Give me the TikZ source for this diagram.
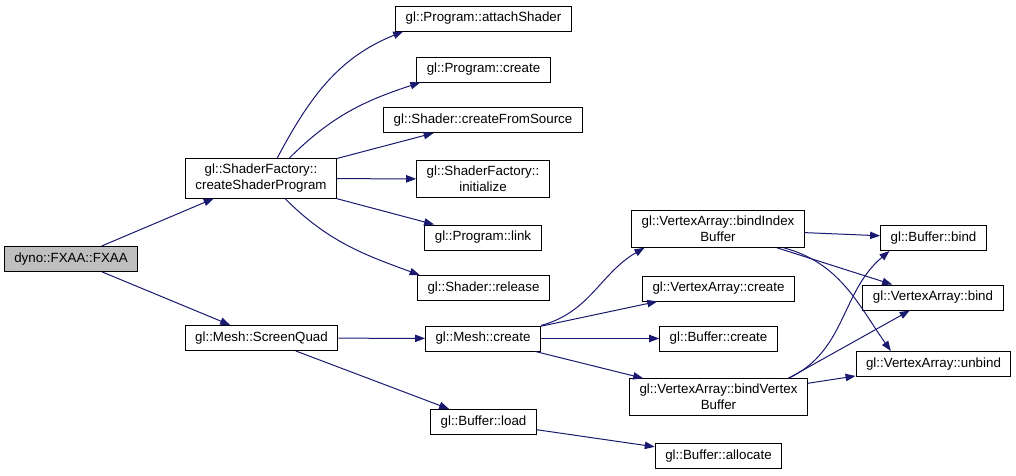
\documentclass[tikz,border=0pt]{standalone}
\usepackage{fontspec}
\setmainfont{Liberation Sans}
\usetikzlibrary{arrows.meta}
\definecolor{edgeblue}{HTML}{191970}
\definecolor{rootgray}{HTML}{BFBFBF}
\begin{document}
\begin{tikzpicture}[x=0.75pt,y=-0.75pt,
  fn/.style={draw, align=center, font=\fontsize{10}{12}\selectfont, inner xsep=7.5pt, inner ysep=4pt, minimum height=18.75pt, line width=0.75pt},
  call/.style={draw=edgeblue, line width=0.75pt, -{Triangle[length=7.5pt,width=5.5pt,fill=edgeblue]}}]
\useasboundingbox (0,0) rectangle (1016,475);
\node[fn, fill=rootgray] (fxaa) at (71,259) {dyno::FXAA::FXAA};
\node[fn] (csp) at (261,178.5) {gl::ShaderFactory::\\createShaderProgram};
\node[fn] (sq) at (261.5,338) {gl::Mesh::ScreenQuad};
\node[fn] (attach) at (483.5,18.5) {gl::Program::attachShader};
\node[fn] (pcreate) at (483.5,69.5) {gl::Program::create};
\node[fn] (cfs) at (483,120) {gl::Shader::createFromSource};
\node[fn] (init) at (483,179) {gl::ShaderFactory::\\initialize};
\node[fn] (link) at (483,237.5) {gl::Program::link};
\node[fn] (release) at (483.5,288) {gl::Shader::release};
\node[fn] (mcreate) at (483,338.5) {gl::Mesh::create};
\node[fn] (load) at (483.5,422) {gl::Buffer::load};
\node[fn] (bib) at (718,229) {gl::VertexArray::bindIndex\\Buffer};
\node[fn] (vacreate) at (718.5,288.5) {gl::VertexArray::create};
\node[fn] (bcreate) at (718.5,338.5) {gl::Buffer::create};
\node[fn] (bvb) at (718.5,397) {gl::VertexArray::bindVertex\\Buffer};
\node[fn] (alloc) at (718.5,456) {gl::Buffer::allocate};
\node[fn] (bbind) at (933.5,238) {gl::Buffer::bind};
\node[fn] (vabind) at (933,297.5) {gl::VertexArray::bind};
\node[fn] (unbind) at (933.5,364) {gl::VertexArray::unbind};
% FXAA
\draw[call] (fxaa) -- (csp);
\draw[call] (fxaa) -- (sq);
% createShaderProgram
\draw[call] ([xshift=12pt]csp.north) to[out=62,in=202] ([xshift=6pt]attach.south west);
\draw[call] ([xshift=21pt]csp.north) to[out=45,in=198] ([xshift=3pt]pcreate.south west);
\draw[call] (csp) -- (cfs);
\draw[call] (csp) -- (init);
\draw[call] (csp) -- (link);
\draw[call] ([xshift=18pt]csp.south) to[out=-45,in=160] ([xshift=2pt]release.north west);
% ScreenQuad
\draw[call] (sq) -- (mcreate);
\draw[call] (sq) -- (load);
% Mesh::create
\draw[call] (mcreate.north east) to[out=15,in=210] ([xshift=10pt]bib.south west);
\draw[call] (mcreate) -- (vacreate);
\draw[call] (mcreate) -- (bcreate);
\draw[call] (mcreate) -- (bvb);
\draw[call] (load) -- (alloc);
% bindIndexBuffer
\draw[call] (bib) -- (bbind);
\draw[call] (bib) -- (vabind);
\draw[call] ([xshift=-16pt]bib.south east) to[out=-15,in=125] ([xshift=-32pt]unbind.north);
% bindVertexBuffer
\draw[call] (bvb.15) to[out=25,in=220] ([xshift=7pt]bbind.south west);
\draw[call] (bvb.15) -- (vabind);
\draw[call] (bvb) -- (unbind);
\end{tikzpicture}
\end{document}
